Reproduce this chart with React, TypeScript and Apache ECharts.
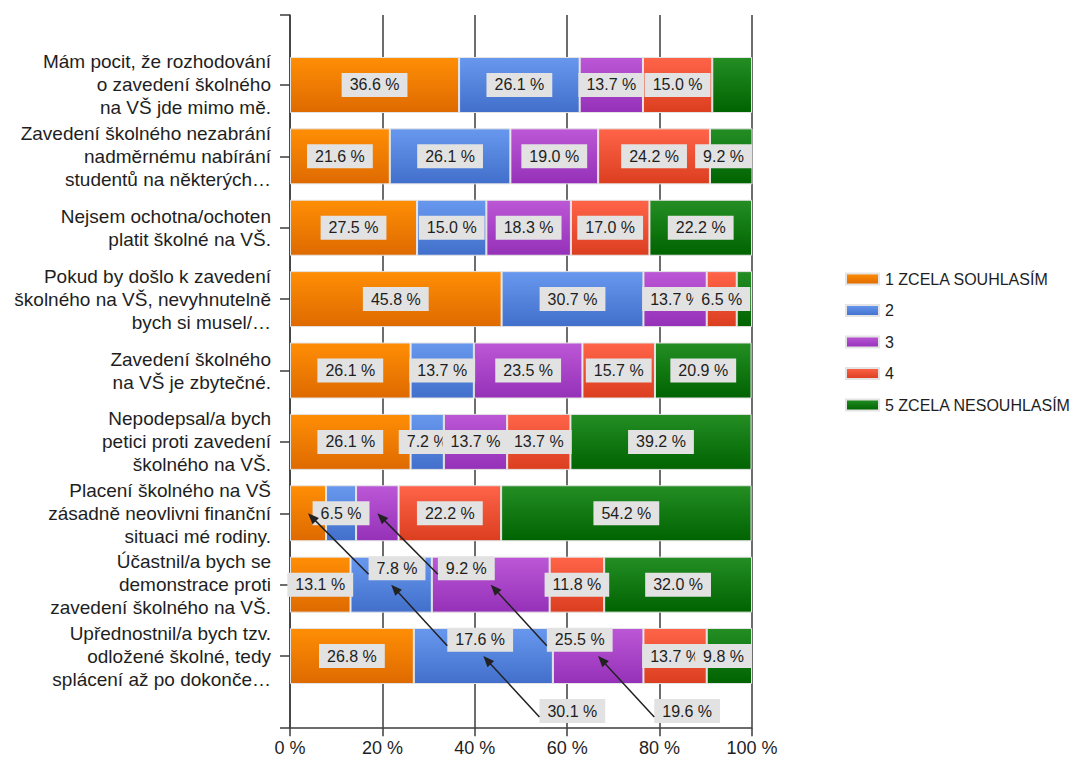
import React, { useEffect, useRef } from "react";
import * as echarts from "echarts";

const categories = [
  "Mám pocit, že rozhodování\no zavedení školného\nna VŠ jde mimo mě.",
  "Zavedení školného nezabrání\nnadměrnému nabírání\nstudentů na některých…",
  "Nejsem ochotna/ochoten\nplatit školné na VŠ.",
  "Pokud by došlo k zavedení\nškolného na VŠ, nevyhnutelně\nbych si musel/…",
  "Zavedení školného\nna VŠ je zbytečné.",
  "Nepodepsal/a bych\npetici proti zavedení\nškolného na VŠ.",
  "Placení školného na VŠ\nzásadně neovlivni finanční\nsituaci mé rodiny.",
  "Účastnil/a bych se\ndemonstrace proti\nzavedení školného na VŠ.",
  "Upřednostnil/a bych tzv.\nodložené školné, tedy\nsplácení až po dokonče…",
];

const seriesNames = ["1 ZCELA SOUHLASÍM", "2", "3", "4", "5 ZCELA NESOUHLASÍM"];

const answer1 = [36.6, 21.6, 27.5, 45.8, 26.1, 26.1, 7.8, 13.1, 26.8];
const answer2 = [26.1, 26.1, 15.0, 30.7, 13.7, 7.2, 6.5, 17.6, 30.1];
const answer3 = [13.7, 19.0, 18.3, 13.7, 23.5, 13.7, 9.2, 25.5, 19.6];
const answer4 = [15.0, 24.2, 17.0, 6.5, 15.7, 13.7, 22.2, 11.8, 13.7];
const answer5 = [8.6, 9.2, 22.2, 3.3, 20.9, 39.2, 54.2, 32.0, 9.8];

const xTickValues = [0, 20, 40, 60, 80, 100];

// [seriesIndex, rowIndex] of labels that are not drawn
const hiddenLabels = [
  [4, 0],
  [4, 3],
];
// [seriesIndex, rowIndex] of labels moved away and linked with an arrow
const calloutLabels = [
  [0, 6],
  [2, 6],
  [1, 7],
  [2, 7],
  [1, 8],
  [2, 8],
];

const FONT = '"Liberation Sans", Arial, Helvetica, sans-serif';
const TEXT = "#1e1e1e";
const GRIDLINE = "#3c3c3c";
const LABEL_FS = 16;
const LABEL_PAD_X = 8;
const CALLOUT_OFFSET = [89, 55];
const GRID_LEFT = 290;
const GRID_RIGHT = 320;
const CHART_W = 1072;

const gradients: [string, string][] = [
  ["#FF8E05", "#DE6A00"],
  ["#6898EE", "#416FCB"],
  ["#BC57D6", "#9531B8"],
  ["#FF6449", "#DB3E1F"],
  ["#248E24", "#006300"],
];

const fmt = (v: number) => v.toFixed(1) + " %";

export default function App() {
  const ref = useRef<HTMLDivElement>(null);

  useEffect(() => {
    document.body.style.margin = "0";
    const chart = echarts.init(ref.current!, null, { renderer: "svg" });
    const values = [answer1, answer2, answer3, answer4, answer5];

    const ctx = document.createElement("canvas").getContext("2d")!;
    ctx.font = `${LABEL_FS}px ${FONT}`;
    const labelWidth = (v: number) => ctx.measureText(fmt(v)).width + 2 * LABEL_PAD_X;
    const plotW = CHART_W - GRID_LEFT - GRID_RIGHT;
    const plotRight = GRID_LEFT + plotW;

    const isIn = (list: number[][], s: number, r: number) =>
      list.some(([a, b]) => a === s && b === r);

    const series = values.map((vals, si) => ({
      name: seriesNames[si],
      type: "bar",
      stack: "total",
      xAxisIndex: 0,
      yAxisIndex: 0,
      barWidth: 56,
      itemStyle: {
        color: new echarts.graphic.LinearGradient(0, 0, 0, 1, [
          { offset: 0, color: gradients[si][0] },
          { offset: 1, color: gradients[si][1] },
        ]),
        borderColor: "#e4e4e4",
        borderWidth: 1,
      },
      label: {
        show: true,
        position: "inside",
        formatter: (p: any) => fmt(p.value),
        fontFamily: FONT,
        fontSize: LABEL_FS,
        lineHeight: 16,
        color: TEXT,
        backgroundColor: "#E2E2E2",
        padding: [4, LABEL_PAD_X],
      },
      data: vals.map((v, r) => {
        const item: any = { value: v };
        if (isIn(hiddenLabels, si, r)) item.label = { show: false };
        else if (isIn(calloutLabels, si, r)) item.label = { offset: CALLOUT_OFFSET };
        else {
          // keep the label box inside the plot area
          let start = 0;
          for (let k = 0; k < si; k++) start += values[k][r];
          const cx = GRID_LEFT + ((start + v / 2) / 100) * plotW;
          const over = cx + labelWidth(v) / 2 - plotRight;
          if (over > 0) item.label = { offset: [-over, 0] };
        }
        return item;
      }),
    }));

    const option: any = {
      animation: false,
      backgroundColor: "#ffffff",
      textStyle: { fontFamily: FONT },
      grid: [
        { left: GRID_LEFT, right: GRID_RIGHT, top: 49.3, height: 642.4, outerBoundsMode: "none", containLabel: false },
        { left: GRID_LEFT, right: GRID_RIGHT, top: 15, height: 712.3, outerBoundsMode: "none", containLabel: false },
      ],
      legend: {
        orient: "vertical",
        left: 840,
        top: 266,
        itemWidth: 33,
        itemHeight: 11,
        itemGap: 15.5,
        icon: "rect",
        textStyle: { fontFamily: FONT, fontSize: 16, color: TEXT, padding: [0, 0, 0, 1] },
        data: seriesNames,
      },
      xAxis: [
        {
          type: "value",
          gridIndex: 0,
          min: 0,
          max: 100,
          show: false,
        },
        {
          type: "value",
          gridIndex: 1,
          min: xTickValues[0],
          max: xTickValues[xTickValues.length - 1],
          interval: xTickValues[1] - xTickValues[0],
          axisLine: { show: true, lineStyle: { color: GRIDLINE, width: 1.5 } },
          axisTick: { show: true, length: 9, lineStyle: { color: GRIDLINE, width: 1.5 } },
          axisLabel: {
            show: true,
            formatter: "{value} %",
            fontFamily: FONT,
            fontSize: 18,
            color: TEXT,
            margin: 12,
          },
          splitLine: { show: true, lineStyle: { color: GRIDLINE, width: 1.5 } },
        },
      ],
      yAxis: [
        {
          type: "category",
          gridIndex: 0,
          inverse: true,
          data: categories,
          axisLine: { show: false },
          axisTick: {
            show: true,
            alignWithLabel: true,
            length: 10,
            lineStyle: { color: GRIDLINE, width: 1.5 },
          },
          axisLabel: {
            fontFamily: FONT,
            fontSize: 19,
            lineHeight: 23,
            color: TEXT,
            margin: 19,
            align: "right",
          },
          splitLine: { show: false },
        },
        {
          type: "value",
          gridIndex: 1,
          min: 0,
          max: 1,
          interval: 1,
          axisLine: { show: true, lineStyle: { color: GRIDLINE, width: 1.5 } },
          axisTick: { show: true, length: 10, lineStyle: { color: GRIDLINE, width: 1.5 } },
          axisLabel: { show: false },
          splitLine: { show: false },
        },
      ],
      series,
    };

    chart.setOption(option);

    // callout arrows: from moved label to the centre of its own bar segment
    const graphics: any[] = [];
    calloutLabels.forEach(([si, row]) => {
      let start = 0;
      for (let k = 0; k < si; k++) start += values[k][row];
      const v = values[si][row];
      const [tx, ty] = chart.convertToPixel({ gridIndex: 0 }, [start + v / 2, row]) as number[];
      const w = labelWidth(v);
      const sx = tx + CALLOUT_OFFSET[0] - w / 2;
      const sy = ty + CALLOUT_OFFSET[1] + 6;
      const dx = tx - sx;
      const dy = ty - sy;
      const len = Math.sqrt(dx * dx + dy * dy);
      const ux = dx / len;
      const uy = dy / len;
      const headLen = 11;
      const headW = 4.5;
      const bx = tx - ux * headLen;
      const by = ty - uy * headLen;
      graphics.push({
        type: "line",
        z: 50,
        shape: { x1: sx, y1: sy, x2: bx + ux * 2, y2: by + uy * 2 },
        style: { stroke: "#222", lineWidth: 1.5 },
      });
      graphics.push({
        type: "polygon",
        z: 50,
        shape: {
          points: [
            [tx, ty],
            [bx - uy * headW, by + ux * headW],
            [bx + uy * headW, by - ux * headW],
          ],
        },
        style: { fill: "#222" },
      });
    });
    chart.setOption({ graphic: graphics });

    return () => chart.dispose();
  }, []);

  return <div ref={ref} style={{ width: 1072, height: 758 }} />;
}
